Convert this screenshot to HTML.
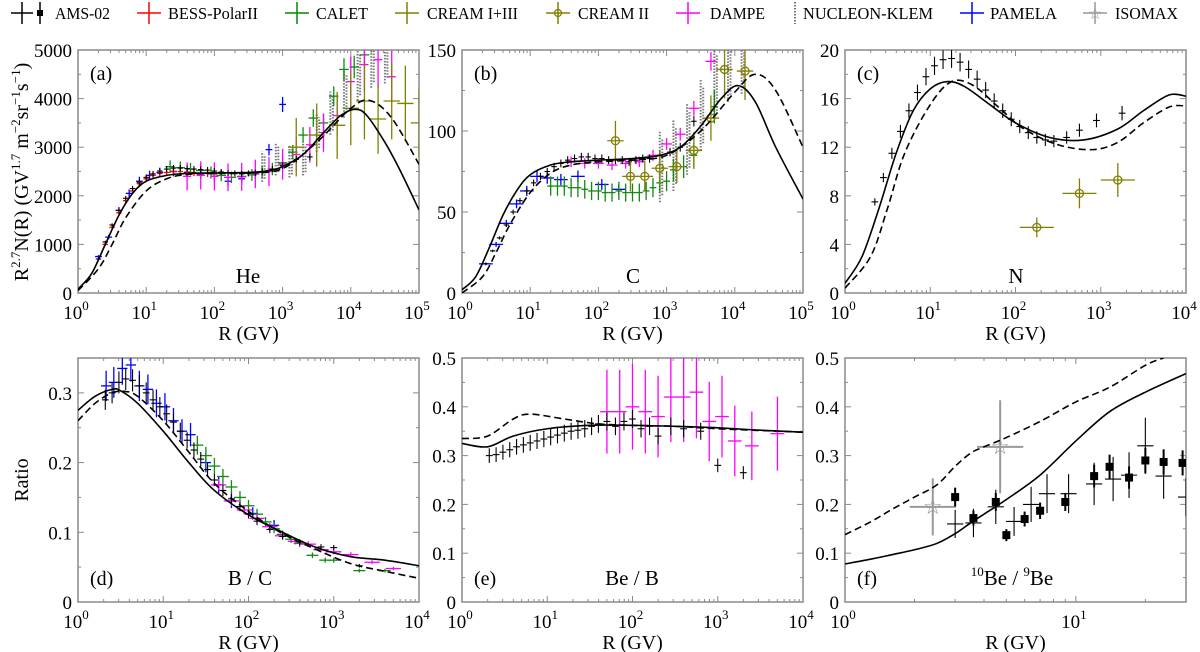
<!DOCTYPE html>
<html><head><meta charset="utf-8"><title>Cosmic ray spectra and ratios</title>
<style>
body{margin:0;background:#fff;}
svg, svg text{font-family:"Liberation Serif","DejaVu Serif","Times New Roman",serif;}
svg{display:block;}
</style></head>
<body>
<svg id="fig" width="1200" height="652" viewBox="0 0 1200 652" xmlns="http://www.w3.org/2000/svg" font-family="Liberation Serif, DejaVu Serif, serif">
<g id="legend" font-size="17" fill="#000">
 <g>
  <line x1="11" y1="13" x2="33" y2="13" stroke="#000" stroke-width="1.5"/><line x1="22" y1="2" x2="22" y2="24" stroke="#000" stroke-width="1.5"/>
  <line x1="40" y1="2" x2="40" y2="24" stroke="#000" stroke-width="1.5"/><rect x="37" y="10" width="6" height="6" fill="#000"/>
  <text x="55" y="19" textLength="55" lengthAdjust="spacingAndGlyphs">AMS-02</text></g>
 <g>
  <line x1="137" y1="13" x2="161" y2="13" stroke="#f00" stroke-width="1.5"/><line x1="149" y1="2" x2="149" y2="24" stroke="#f00" stroke-width="1.5"/>
  <text x="168" y="19" textLength="90" lengthAdjust="spacingAndGlyphs">BESS-PolarII</text></g>
 <g>
  <line x1="285" y1="13" x2="309" y2="13" stroke="#080" stroke-width="1.5"/><line x1="297" y1="2" x2="297" y2="24" stroke="#080" stroke-width="1.5"/>
  <text x="316" y="19" textLength="52" lengthAdjust="spacingAndGlyphs">CALET</text></g>
 <g>
  <line x1="395" y1="13" x2="419" y2="13" stroke="#808000" stroke-width="1.5"/><line x1="407" y1="2" x2="407" y2="24" stroke="#808000" stroke-width="1.5"/>
  <text x="427" y="19" textLength="91" lengthAdjust="spacingAndGlyphs">CREAM I+III</text></g>
 <g>
  <line x1="546" y1="13" x2="570" y2="13" stroke="#808000" stroke-width="1.5"/><line x1="558" y1="2" x2="558" y2="24" stroke="#808000" stroke-width="1.5"/>
  <circle cx="558" cy="13" r="3.5" fill="none" stroke="#808000" stroke-width="1.3"/>
  <text x="578" y="19" textLength="71" lengthAdjust="spacingAndGlyphs">CREAM II</text></g>
 <g>
  <line x1="676" y1="13" x2="700" y2="13" stroke="#f0f" stroke-width="1.5"/><line x1="688" y1="2" x2="688" y2="24" stroke="#f0f" stroke-width="1.5"/>
  <text x="710" y="19" textLength="55" lengthAdjust="spacingAndGlyphs">DAMPE</text></g>
 <g>
  <line x1="795" y1="2" x2="795" y2="24" stroke="#777" stroke-width="2" stroke-dasharray="1.5,1.5"/>
  <text x="803" y="19" textLength="130" lengthAdjust="spacingAndGlyphs">NUCLEON-KLEM</text></g>
 <g>
  <line x1="960" y1="13" x2="984" y2="13" stroke="#00f" stroke-width="1.5"/><line x1="972" y1="2" x2="972" y2="24" stroke="#00f" stroke-width="1.5"/>
  <text x="990" y="19" textLength="67" lengthAdjust="spacingAndGlyphs">PAMELA</text></g>
 <g>
  <line x1="1083" y1="13" x2="1107" y2="13" stroke="#999" stroke-width="1.5"/><line x1="1095" y1="2" x2="1095" y2="24" stroke="#999" stroke-width="1.5"/>
  <text x="1095" y="19" text-anchor="middle" fill="#999" font-size="16" font-family="DejaVu Sans">☆</text>
  <text x="1115" y="19" textLength="63" lengthAdjust="spacingAndGlyphs">ISOMAX</text></g>
</g>
<text transform="translate(28,172) rotate(-90)" text-anchor="middle" font-size="20">R<tspan font-size="13" dy="-8">2.7</tspan><tspan dy="8">N(R) (GV</tspan><tspan font-size="13" dy="-8">1.7</tspan><tspan dy="8"> m</tspan><tspan font-size="13" dy="-8">−2</tspan><tspan dy="8">sr</tspan><tspan font-size="13" dy="-8">−1</tspan><tspan dy="8">s</tspan><tspan font-size="13" dy="-8">−1</tspan><tspan dy="8">)</tspan></text>
<text transform="translate(28,480) rotate(-90)" text-anchor="middle" font-size="20">Ratio</text>
</svg>
<script>
// ===== Panel (a) He =====
const heModelSolidX=[0,0.2,0.4,0.6,0.8,1,1.3,1.6,2,2.5,2.8,3,3.3,3.6,3.85,4.06,4.23,4.5,4.72,5];
const heModelSolidY=[80,400,1000,1600,2050,2300,2420,2460,2470,2480,2520,2600,2850,3300,3650,3780,3660,3100,2530,1710];
const heModelDashX=[0,0.3,0.5,0.7,1,1.3,1.6,2,2.5,3,3.5,4,4.28,4.6,5];
const heModelDashY=[50,500,1000,1550,2100,2350,2440,2460,2470,2560,3100,3800,3960,3600,2650];
const heAmsX=[0.3,0.4,0.5,0.6,0.7,0.8,0.9,1.0,1.1,1.2,1.3,1.4,1.5,1.6,1.7,1.8,1.9,2.0,2.1,2.2,2.3,2.4,2.5,2.6,2.7,2.85,3.0,3.2,3.4];
const heAmsY=[700,1050,1400,1700,1950,2150,2280,2380,2450,2510,2550,2570,2570,2560,2550,2540,2530,2510,2490,2470,2460,2450,2460,2470,2500,2550,2620,2750,2800];
const heBessX=[0.4,0.5,0.6,0.7,0.8,0.9,1.0,1.1,1.2,1.3,1.4,1.5,1.6,1.7,1.8,1.9,2.0];
const heBessY=[1000,1350,1650,1900,2100,2250,2350,2420,2460,2480,2500,2500,2490,2480,2470,2460,2450];
const hePamelaX=[0.3,0.45,0.6,0.75,0.9,1.05,1.2,1.4,1.6,1.8,2.0,2.2,2.4,2.6,2.8,3.0];
const hePamelaY=[750,1150,1700,2050,2300,2420,2480,2500,2480,2450,2400,2300,2350,2450,2950,3880];
const heCaletX=[1.35,1.5,1.65,1.8,1.95,2.1,2.25,2.4,2.55,2.7,2.85,3.0,3.15,3.3,3.45,3.6,3.75,3.9,4.05,4.2];
const heCaletY=[2600,2580,2550,2520,2480,2420,2380,2400,2430,2480,2550,2680,2900,3250,3600,3500,4050,4600,4650,4900];
const heDampeX=[1.6,1.8,2.0,2.2,2.4,2.6,2.8,3.0,3.2,3.4,3.6,3.8,4.0,4.2,4.4,4.6];
const heDampeY=[2400,2420,2400,2380,2390,2450,2500,2650,2850,3050,3300,3650,4350,4700,4800,4450];
const heCreamX=[3.2,3.5,3.8,4.0,4.2,4.4,4.6,4.8,5.0];
const heCreamY=[3000,3250,3450,3800,3950,3580,3950,3900,3500];
const heNucX=[2.7,2.9,3.1,3.3,3.5,3.7,3.9,4.1,4.3,4.5];
const heNucY=[2600,2750,2700,2750,3300,3700,4100,4500,4800,4900];
// ===== Panel (b) C =====
const cModelSolidX=[0,0.2,0.4,0.6,0.8,1,1.3,1.6,2,2.5,2.9,3.2,3.5,3.8,4.05,4.3,4.6,5];
const cModelSolidY=[2,10,28,48,63,73,79,81,82,83,85,90,103,120,128,118,90,58];
const cModelDashX=[0,0.3,0.5,0.7,1,1.3,1.6,2,2.5,3,3.5,4,4.3,4.6,5];
const cModelDashY=[0,10,25,42,62,74,79,81,82,85,100,124,135,125,90];
const cAmsX=[0.35,0.45,0.55,0.65,0.75,0.85,0.95,1.05,1.15,1.25,1.35,1.45,1.55,1.65,1.75,1.85,1.95,2.05,2.15,2.25,2.35,2.45,2.55,2.65,2.75,2.9,3.05,3.2,3.4];
const cAmsY=[18,26,34,42,50,57,63,68,72,75,78,80,82,83,84,84,83,83,82,82,82,81,82,83,83,85,87,90,106];
const cPamelaX=[0.35,0.5,0.65,0.8,0.95,1.1,1.25,1.45,1.7,2.05,2.3];
const cPamelaY=[18,30,43,55,63,72,71,70,72,67,64];
const cCaletX=[1.3,1.4,1.5,1.6,1.7,1.8,1.9,2.0,2.1,2.2,2.3,2.4,2.5,2.6,2.7,2.8,2.9,3.0,3.1,3.25,3.4,3.7];
const cCaletY=[66,66,66,65,65,64,63,63,62,62,63,62,62,62,63,65,68,69,76,78,85,115];
const cDampeX=[1.6,1.8,2.0,2.2,2.4,2.6,2.8,3.0,3.2,3.4,3.65];
const cDampeY=[81,80,80,79,80,81,85,92,98,114,143];
const cCream2X=[2.25,2.47,2.68,2.9,3.15,3.4,3.65,3.85,4.15];
const cCream2Y=[94,72,72,77,78,88,108,138,137];
const cNucX=[2.9,3.1,3.3,3.5,3.7,3.9,4.1];
const cNucY=[78,85,95,110,130,140,145];
// ===== Panel (c) N =====
const nModelSolidX=[0,0.2,0.4,0.6,0.8,1,1.2,1.4,1.7,2,2.4,2.8,3.2,3.5,3.8,4];
const nModelSolidY=[0.8,3,7,11.5,15,16.8,17.4,17,15.5,14,12.8,12.6,13.5,15,16.3,16.2];
const nModelDashX=[0,0.3,0.5,0.7,1,1.25,1.5,1.8,2.1,2.5,2.9,3.2,3.5,3.8,4];
const nModelDashY=[0.4,3,7,11.5,15.5,17.4,17.1,15.3,13.5,12.2,11.8,12.4,14,15.3,15.4];
const nAmsX=[0.35,0.45,0.55,0.65,0.75,0.85,0.95,1.05,1.15,1.25,1.35,1.45,1.55,1.65,1.75,1.85,1.95,2.05,2.15,2.25,2.35,2.45,2.6,2.75,2.95,3.25];
const nAmsY=[7.5,9.5,11.5,13.3,15,16.5,17.8,18.7,19.2,19.3,19,18.4,17.6,16.7,15.8,15,14.3,13.7,13.2,12.8,12.6,12.5,12.8,13.4,14.2,14.8];
const nCream2X=[2.25,2.75,3.2];
const nCream2Y=[5.4,8.2,9.3];
// ===== Panel (d) B/C =====
const bcModelSolidX=[0,0.2,0.4,0.5,0.7,1,1.3,1.6,2,2.4,2.8,3.2,3.6,4];
const bcModelSolidY=[0.275,0.295,0.305,0.303,0.285,0.245,0.2,0.16,0.125,0.1,0.078,0.065,0.06,0.052];
const bcModelDashX=[0,0.2,0.4,0.55,0.7,1,1.3,1.6,2,2.4,2.8,3.2,3.6,4];
const bcModelDashY=[0.26,0.285,0.3,0.302,0.295,0.26,0.215,0.17,0.13,0.098,0.075,0.055,0.044,0.034];
const bcAmsX=[0.32,0.4,0.48,0.56,0.64,0.72,0.8,0.88,0.96,1.04,1.12,1.2,1.28,1.36,1.44,1.52,1.6,1.7,1.8,1.9,2.0,2.1,2.25,2.4,2.6,2.85,3.0,3.3];
const bcAmsY=[0.29,0.3,0.315,0.32,0.318,0.31,0.3,0.29,0.28,0.27,0.258,0.245,0.232,0.218,0.205,0.19,0.175,0.16,0.148,0.137,0.126,0.116,0.104,0.094,0.086,0.079,0.078,0.052];
const bcPamelaX=[0.33,0.42,0.52,0.62,0.72,0.82,0.92,1.02,1.12,1.22,1.32,1.5,1.65,1.8,2.05,2.3];
const bcPamelaY=[0.31,0.315,0.335,0.34,0.31,0.305,0.285,0.28,0.26,0.245,0.24,0.2,0.168,0.145,0.127,0.11];
const bcCaletX=[1.4,1.5,1.6,1.7,1.8,1.9,2.0,2.1,2.2,2.3,2.4,2.5,2.6,2.75,2.9,3.0,3.3,3.6];
const bcCaletY=[0.225,0.21,0.195,0.18,0.165,0.15,0.138,0.126,0.115,0.105,0.097,0.09,0.084,0.067,0.06,0.06,0.045,0.045];
const bcDampeX=[1.65,1.8,1.95,2.1,2.25,2.4,2.55,2.7,2.85,3.0,3.2,3.45,3.7];
const bcDampeY=[0.168,0.145,0.132,0.12,0.108,0.095,0.087,0.083,0.075,0.072,0.068,0.057,0.048];
// ===== Panel (e) Be/B =====
const bebModelSolidX=[0,0.3,0.6,1,1.5,2,2.5,3,3.5,4];
const bebModelSolidY=[0.325,0.318,0.34,0.355,0.362,0.362,0.36,0.357,0.352,0.348];
const bebModelDashX=[0,0.3,0.6,0.8,1.2,1.6,2,2.5,3,4];
const bebModelDashY=[0.335,0.34,0.375,0.385,0.375,0.365,0.362,0.36,0.355,0.348];
const bebAmsX=[0.32,0.4,0.48,0.56,0.64,0.72,0.8,0.88,0.96,1.04,1.12,1.2,1.28,1.36,1.44,1.52,1.6,1.7,1.8,1.9,2.0,2.1,2.2,2.3,2.45,2.6,2.8,3.0,3.3];
const bebAmsY=[0.3,0.302,0.307,0.312,0.318,0.322,0.326,0.33,0.334,0.338,0.342,0.346,0.35,0.352,0.355,0.36,0.365,0.37,0.36,0.37,0.375,0.355,0.36,0.34,0.36,0.355,0.35,0.28,0.265];
const bebDampeX=[1.7,1.85,2.0,2.15,2.3,2.45,2.6,2.75,2.9,3.05,3.2,3.4,3.7];
const bebDampeY=[0.39,0.39,0.4,0.39,0.38,0.42,0.42,0.43,0.37,0.38,0.33,0.32,0.345];
// ===== Panel (f) 10Be/9Be (x in GV) =====
const be10ModelSolidX=[1,1.3,1.6,2,2.5,3,3.5,4,5,7,10,14,20,30];
const be10ModelSolidY=[0.078,0.088,0.097,0.107,0.12,0.14,0.162,0.18,0.21,0.26,0.33,0.39,0.43,0.468];
const be10ModelDashX=[1,1.3,1.6,2,2.5,3,3.5,4,5,7,10,14,20,24];
const be10ModelDashY=[0.138,0.165,0.19,0.215,0.24,0.278,0.305,0.318,0.337,0.37,0.41,0.44,0.485,0.5];
const be10AmsSqX=[3.0,3.6,4.5,5.0,6.0,7.0,9.0,12,14,17,20,24,29];
const be10AmsSqY=[0.215,0.172,0.205,0.137,0.17,0.187,0.205,0.258,0.277,0.255,0.29,0.287,0.285];
const be10AmsCrX=[3.0,3.6,4.5,5.4,6.4,7.5,9.3,12,14.5,17,20,24,30];
const be10AmsCrY=[0.16,0.162,0.195,0.165,0.2,0.222,0.222,0.242,0.252,0.26,0.32,0.258,0.215];
const be10IsoX=[2.4,4.7];
const be10IsoY=[0.195,0.318];

const NS="http://www.w3.org/2000/svg";
const svg=document.getElementById('fig');
function mk(tag,attrs,parent){const e=document.createElementNS(NS,tag);for(const k in attrs)e.setAttribute(k,attrs[k]);(parent||svg).appendChild(e);return e;}
const L10=Math.log10;

function makePanel(cfg){
  const g=mk('g',{});
  
  
  const {x0,x1,y0,y1,xmin,xmax,ymin,ymax}=cfg;
  const sx=v=>x0+(v-xmin)/(xmax-xmin)*(x1-x0);
  const sy=v=>y1-(v-ymin)/(ymax-ymin)*(y1-y0);
  const cp=mk('clipPath',{id:'clip-'+cfg.name},g);
  mk('rect',{x:x0,y:y0,width:x1-x0,height:y1-y0},cp);
  const frame=mk('rect',{x:x0,y:y0,width:x1-x0,height:y1-y0,fill:'none',stroke:'#8a8a8a','stroke-width':1.5},g);
  
  
  const tk=mk('g',{stroke:'#8a8a8a','stroke-width':1},g);
  
  
  for(let d=Math.floor(xmin);d<=Math.ceil(xmax);d++){
    for(let m=1;m<10;m++){
      const v=d+L10(m); if(v<xmin-1e-9||v>xmax+1e-9)continue;
      const len=m===1?6:3; const X=sx(v);
      mk('line',{x1:X,y1:y1,x2:X,y2:y1-len},tk);mk('line',{x1:X,y1:y0,x2:X,y2:y0+len},tk);
    }
    if(d>=xmin-1e-9&&d<=xmax+1e-9){
      const t=mk('text',{x:sx(d)-2,y:y1+26,'text-anchor':'middle','font-size':19},g);
      
      
      t.textContent='10';
      const s=mk('tspan',{'font-size':13,dy:-9},t);s.textContent=String(d);
    }
  }
  for(let v=ymin;v<=ymax+1e-9;v+=cfg.yminor){
    const major=Math.abs(Math.round(v/cfg.ystep)*cfg.ystep-v)<1e-9;
    const len=major?6:3;const Y=sy(v);
    mk('line',{x1:x0,y1:Y,x2:x0+len,y2:Y},tk);mk('line',{x1:x1,y1:Y,x2:x1-len,y2:Y},tk);
  }
  cfg.yticks.forEach(v=>{
    const t=mk('text',{x:x0-6,y:sy(v)+7,'text-anchor':'end','font-size':19},g);
    
    
    t.textContent=String(v);
  });
  const xt=mk('text',{x:(x0+x1)/2,y:y1+47,'text-anchor':'middle','font-size':20},g);
  
  
  xt.textContent='R (GV)';
  const pl=mk('text',{x:x0+12,y:cfg.labelTop?y0+30:y1-17,'font-size':20},g);
  
  
  pl.textContent=cfg.letter;
  const data=mk('g',{'clip-path':'url(#clip-'+cfg.name+')'},g);
  
  
  return {g,data,sx,sy};
}

function curve(P,xs,ys,dash,name,isLin){
  const pts=xs.map((x,i)=>[P.sx(isLin?L10(x):x),P.sy(ys[i])]);
  let d='M'+pts[0][0]+','+pts[0][1];
  for(let i=0;i<pts.length-1;i++){
    const p0=pts[Math.max(0,i-1)],p1=pts[i],p2=pts[i+1],p3=pts[Math.min(pts.length-1,i+2)];
    const c1=[p1[0]+(p2[0]-p0[0])/6,p1[1]+(p2[1]-p0[1])/6];
    const c2=[p2[0]-(p3[0]-p1[0])/6,p2[1]-(p3[1]-p1[1])/6];
    d+=' C'+c1+' '+c2+' '+p2;
  }
  const p=mk('path',{d,fill:'none',stroke:'#000','stroke-width':1.6,'stroke-dasharray':dash?'7,4':'none'},P.data);
  
  
}

function series(P,xs,ys,o,name){
  const sg=mk('g',{stroke:o.color,'stroke-width':o.w||1.3,fill:'none'},P.data);
  
  
  xs.forEach((xv,i)=>{
    const lx=o.lin?L10(xv):xv; const y=ys[i];
    const X=P.sx(lx),Y=P.sy(y);
    const ye=o.yeAbs!==undefined?o.yeAbs:y*o.rel;
    const pt=mk('g',{},sg);
    
    
    if(o.dotted){
      mk('line',{x1:X,y1:P.sy(y-ye),x2:X,y2:P.sy(y+ye),'stroke-dasharray':'1.5,1.5','stroke-width':2},pt);
      mk('line',{x1:X+2.5,y1:P.sy(y-ye*0.8),x2:X+2.5,y2:P.sy(y+ye*0.8),'stroke-dasharray':'1.5,1.5','stroke-width':2},pt);
      return;
    }
    mk('line',{x1:X,y1:P.sy(y-ye),x2:X,y2:P.sy(y+ye)},pt);
    if(o.xe>0){mk('line',{x1:P.sx(lx-o.xe),y1:Y,x2:P.sx(lx+o.xe),y2:Y},pt);}
    if(o.circle)mk('circle',{cx:X,cy:Y,r:4,stroke:o.color,'stroke-width':1.3},pt);
    if(o.square)mk('rect',{x:X-4,y:Y-4,width:8,height:8,fill:'#000',stroke:'none'},pt);
    if(o.star){const s=mk('text',{x:X,y:Y+7,'text-anchor':'middle','font-size':22,fill:o.color,stroke:'none','font-family':'DejaVu Sans'},pt);s.textContent='☆';}
  });
}
function species(P,cx,y,txt,name){const t=mk('text',{x:cx,y:y,'text-anchor':'middle','font-size':21},P.g);
  
  
  t.innerHTML=txt;}

const OL='#808000',BK='#000',RD='#f00',GR='#118811',MG='#ff00ff',BL='#0000ff',GY='#777';
const A=makePanel({name:'panel-a-helium',x0:78,x1:419,y0:50,y1:293,xmin:0,xmax:5,ymin:0,ymax:5000,ystep:1000,yminor:500,yticks:[0,1000,2000,3000,4000,5000],letter:'(a)',labelTop:true});
series(A,hePamelaX,hePamelaY,{color:BL,rel:0.04,xe:0.05},'pamela-he');
series(A,heBessX,heBessY,{color:RD,rel:0.03,xe:0.04},'bess-he');
series(A,heNucX,heNucY,{color:GY,rel:0.12,dotted:true},'nucleon-he');
series(A,heCaletX,heCaletY,{color:GR,rel:0.05,xe:0.07},'calet-he');
series(A,heDampeX,heDampeY,{color:MG,rel:0.12,xe:0.06},'dampe-he');
series(A,heCreamX,heCreamY,{color:OL,rel:0.2,xe:0.12},'cream13-he');
series(A,heAmsX,heAmsY,{color:BK,rel:0.025,xe:0.04,w:1.1},'ams02-he');
curve(A,heModelSolidX,heModelSolidY,false,'model-solid-he');
curve(A,heModelDashX,heModelDashY,true,'model-dashed-he');
species(A,248,283,'He','species-label-he');
const B=makePanel({name:'panel-b-carbon',x0:462,x1:803,y0:50,y1:293,xmin:0,xmax:5,ymin:0,ymax:150,ystep:50,yminor:25,yticks:[0,50,100,150],letter:'(b)',labelTop:true});
series(B,cNucX,cNucY,{color:GY,yeAbs:22,dotted:true},'nucleon-c');
series(B,cPamelaX,cPamelaY,{color:BL,rel:0.05,xe:0.1},'pamela-c');
series(B,cCaletX,cCaletY,{color:GR,rel:0.09,xe:0.05},'calet-c');
series(B,cDampeX,cDampeY,{color:MG,rel:0.04,xe:0.08},'dampe-c');
series(B,cAmsX,cAmsY,{color:BK,rel:0.03,xe:0.04,w:1.1},'ams02-c');
series(B,cCream2X,cCream2Y,{color:OL,rel:0.13,xe:0.12,circle:true},'cream2-c');
curve(B,cModelSolidX,cModelSolidY,false,'model-solid-c');
curve(B,cModelDashX,cModelDashY,true,'model-dashed-c');
species(B,633,283,'C','species-label-c');
const C=makePanel({name:'panel-c-nitrogen',x0:845,x1:1186,y0:50,y1:293,xmin:0,xmax:4,ymin:0,ymax:20,ystep:4,yminor:2,yticks:[0,4,8,12,16,20],letter:'(c)',labelTop:true});
series(C,nAmsX,nAmsY,{color:BK,rel:0.04,xe:0.04,w:1.1},'ams02-n');
series(C,nCream2X,nCream2Y,{color:OL,rel:0.15,xe:0.2,circle:true},'cream2-n');
curve(C,nModelSolidX,nModelSolidY,false,'model-solid-n');
curve(C,nModelDashX,nModelDashY,true,'model-dashed-n');
species(C,1016,283,'N','species-label-n');
const D=makePanel({name:'panel-d-boron-carbon',x0:78,x1:419,y0:358,y1:602,xmin:0,xmax:4,ymin:0,ymax:0.35,ystep:0.1,yminor:0.05,yticks:[0,0.1,0.2,0.3],letter:'(d)',labelTop:false});
series(D,bcPamelaX,bcPamelaY,{color:BL,rel:0.07,xe:0.06},'pamela-bc');
series(D,bcCaletX,bcCaletY,{color:GR,rel:0.06,xe:0.07},'calet-bc');
series(D,bcDampeX,bcDampeY,{color:MG,rel:0.05,xe:0.09},'dampe-bc');
series(D,bcAmsX,bcAmsY,{color:BK,rel:0.05,xe:0.04,w:1.1},'ams02-bc');
curve(D,bcModelSolidX,bcModelSolidY,false,'model-solid-bc');
curve(D,bcModelDashX,bcModelDashY,true,'model-dashed-bc');
species(D,250,585,'B / C','species-label-bc');
const E=makePanel({name:'panel-e-beryllium-boron',x0:462,x1:803,y0:358,y1:602,xmin:0,xmax:4,ymin:0,ymax:0.5,ystep:0.1,yminor:0.05,yticks:[0,0.1,0.2,0.3,0.4,0.5],letter:'(e)',labelTop:false});
series(E,bebDampeX,bebDampeY,{color:MG,rel:0.22,xe:0.08},'dampe-beb');
series(E,bebAmsX,bebAmsY,{color:BK,rel:0.05,xe:0.04,w:1.1},'ams02-beb');
curve(E,bebModelSolidX,bebModelSolidY,false,'model-solid-beb');
curve(E,bebModelDashX,bebModelDashY,true,'model-dashed-beb');
species(E,632,585,'Be / B','species-label-beb');
const F=makePanel({name:'panel-f-be10-be9',x0:845,x1:1186,y0:358,y1:602,xmin:0,xmax:L10(30),ystep:0.1,yminor:0.05,ymin:0,ymax:0.5,yticks:[0,0.1,0.2,0.3,0.4,0.5],letter:'(f)',labelTop:false});
series(F,be10IsoX,be10IsoY,{color:'#999',rel:0.3,xe:0.1,lin:true,star:true,w:2},'isomax-be10');
series(F,be10AmsCrX,be10AmsCrY,{color:BK,rel:0.18,xe:0.035,lin:true,w:1.1},'ams02-be10-cross');
series(F,be10AmsSqX,be10AmsSqY,{color:BK,rel:0.09,xe:0,lin:true,square:true,w:2},'ams02-be10-square');
curve(F,be10ModelSolidX,be10ModelSolidY,false,'model-solid-be10',true);
curve(F,be10ModelDashX,be10ModelDashY,true,'model-dashed-be10',true);
species(F,1012,585,'<tspan font-size="13" dy="-9">10</tspan><tspan dy="9">Be / </tspan><tspan font-size="13" dy="-9">9</tspan><tspan dy="9">Be</tspan>','species-label-be10');
</script>
</body></html>
